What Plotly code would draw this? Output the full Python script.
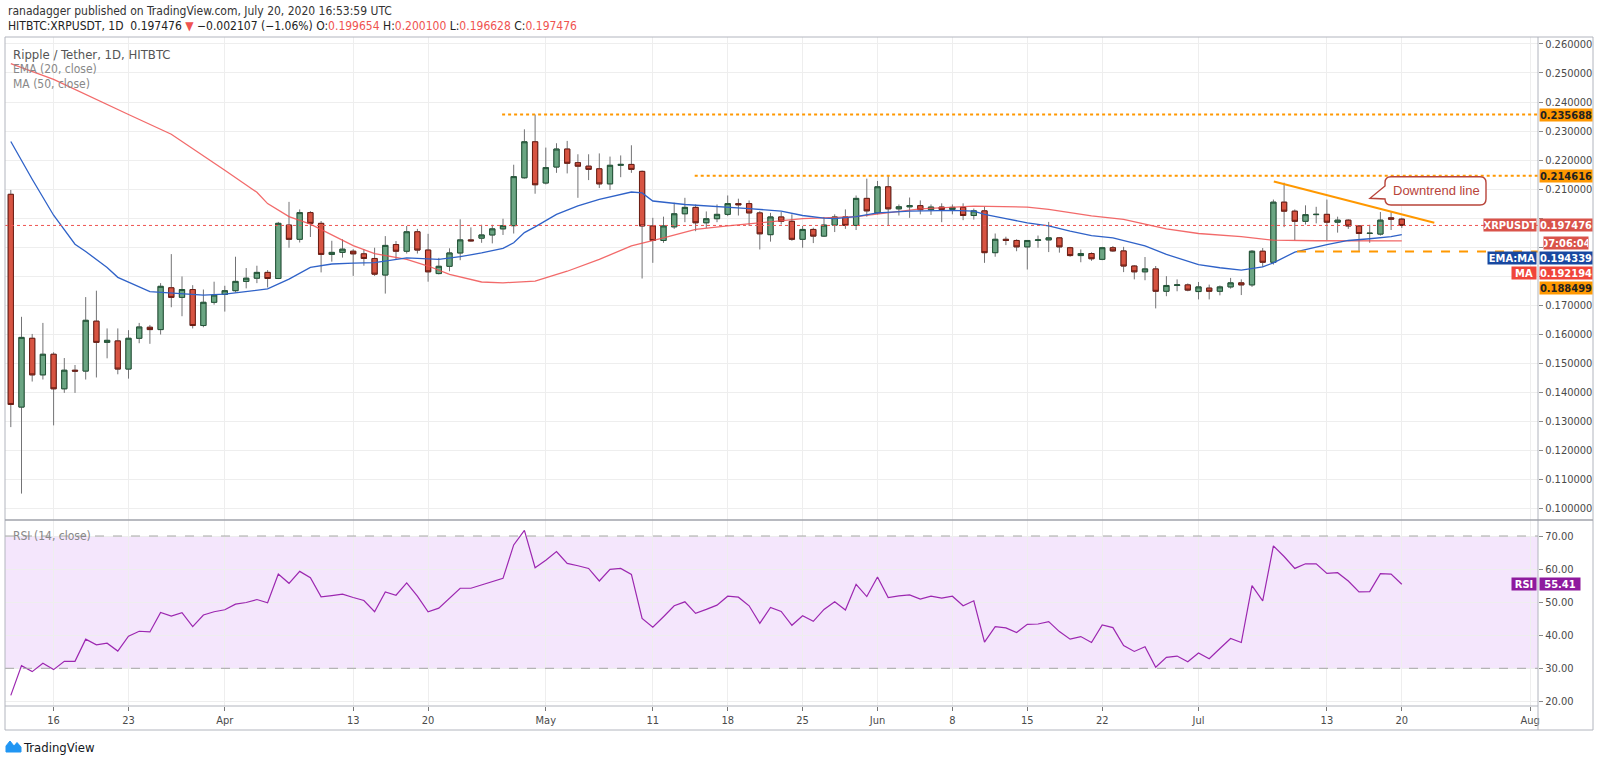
import plotly.graph_objects as go
import pandas as pd

# ---------------- DATA ----------------
dates = pd.date_range("2020-03-12", "2020-07-20", freq="D").strftime("%Y-%m-%d").tolist()

opens = [0.2082, 0.1349, 0.1586, 0.1460, 0.1531, 0.1412, 0.1476, 0.1473, 0.1645, 0.1572,
         0.1577, 0.1480, 0.1586, 0.1624, 0.1616, 0.1760, 0.1727, 0.1754, 0.1630, 0.1710,
         0.1737, 0.1750, 0.1782, 0.1793, 0.1813, 0.1792, 0.1976, 0.1927, 0.2019, 0.1982,
         0.1875, 0.1882, 0.1886, 0.1877, 0.1861, 0.1804, 0.1909, 0.1886, 0.1953, 0.1890,
         0.1809, 0.1834, 0.1880, 0.1925, 0.1931, 0.1942, 0.1963, 0.1974, 0.2139, 0.2263,
         0.2121, 0.2176, 0.2238, 0.2191, 0.2179, 0.2170, 0.2118, 0.2182, 0.2185, 0.2161,
         0.1973, 0.1923, 0.1970, 0.2015, 0.2037, 0.1984, 0.1998, 0.2013, 0.2050, 0.2050,
         0.2018, 0.1943, 0.2004, 0.1989, 0.1927, 0.1961, 0.1938, 0.1976, 0.2004, 0.1975,
         0.2068, 0.2018, 0.2108, 0.2032, 0.2039, 0.2043, 0.2029, 0.2038, 0.2030, 0.2037,
         0.2009, 0.2025, 0.1881, 0.1927, 0.1923, 0.1901, 0.1923, 0.1925, 0.1932, 0.1898,
         0.1871, 0.1878, 0.1858, 0.1898, 0.1887, 0.1835, 0.1815, 0.1825, 0.1748, 0.1768,
         0.1770, 0.1747, 0.1759, 0.1748, 0.1763, 0.1777, 0.1770, 0.1886, 0.1848, 0.2055,
         0.2024, 0.1989, 0.2012, 0.2013, 0.1986, 0.1993, 0.1973, 0.1947, 0.1945, 0.2001,
         0.199654]
highs = [0.2097, 0.1660, 0.1601, 0.1639, 0.1538, 0.1518, 0.1494, 0.1728, 0.1750, 0.1620,
         0.1620, 0.1614, 0.1639, 0.1632, 0.1776, 0.1876, 0.1799, 0.1769, 0.1754, 0.1781,
         0.1767, 0.1867, 0.1828, 0.1836, 0.1821, 0.1987, 0.2056, 0.2030, 0.2024, 0.1990,
         0.1922, 0.1927, 0.1893, 0.1893, 0.1898, 0.1938, 0.1921, 0.1973, 0.1963, 0.1946,
         0.1863, 0.1896, 0.1996, 0.1968, 0.1977, 0.1977, 0.1998, 0.2184, 0.2306, 0.2357,
         0.2243, 0.2258, 0.2266, 0.2220, 0.2220, 0.2223, 0.2212, 0.2216, 0.2251, 0.2164,
         0.2001, 0.2005, 0.2053, 0.2070, 0.2047, 0.2023, 0.2047, 0.2078, 0.2067, 0.2061,
         0.2024, 0.2018, 0.2021, 0.2013, 0.1973, 0.1967, 0.2004, 0.2013, 0.2030, 0.2078,
         0.2136, 0.2128, 0.2147, 0.2047, 0.2071, 0.2061, 0.2047, 0.2051, 0.2047, 0.2051,
         0.2033, 0.2039, 0.1947, 0.1936, 0.1927, 0.1924, 0.1940, 0.1987, 0.1935, 0.1901,
         0.1892, 0.1882, 0.1901, 0.1904, 0.1901, 0.1838, 0.1866, 0.1835, 0.1800, 0.1789,
         0.1775, 0.1780, 0.1771, 0.1768, 0.1794, 0.1789, 0.1890, 0.1897, 0.2064, 0.2122,
         0.2030, 0.2044, 0.2039, 0.2064, 0.2005, 0.1996, 0.1975, 0.1977, 0.2021, 0.2021,
         0.200100]
lows = [0.1280, 0.1051, 0.1437, 0.1444, 0.1286, 0.1398, 0.1398, 0.1444, 0.1451, 0.1517,
        0.1462, 0.1447, 0.1569, 0.1567, 0.1599, 0.1693, 0.1662, 0.1620, 0.1624, 0.1702,
        0.1678, 0.1744, 0.1758, 0.1776, 0.1761, 0.1790, 0.1898, 0.1916, 0.1935, 0.1813,
        0.1850, 0.1864, 0.1801, 0.1836, 0.1801, 0.1740, 0.1858, 0.1878, 0.1878, 0.1781,
        0.1806, 0.1817, 0.1855, 0.1919, 0.1915, 0.1913, 0.1942, 0.1947, 0.2136, 0.2084,
        0.2116, 0.2156, 0.2154, 0.2070, 0.2131, 0.2104, 0.2097, 0.2141, 0.2156, 0.1792,
        0.1846, 0.1915, 0.1963, 0.1986, 0.1955, 0.1966, 0.1986, 0.2007, 0.2009, 0.1973,
        0.1892, 0.1919, 0.1978, 0.1922, 0.1898, 0.1914, 0.1935, 0.1952, 0.1963, 0.1959,
        0.2005, 0.2013, 0.1973, 0.2009, 0.2001, 0.2013, 0.2011, 0.1986, 0.2013, 0.1993,
        0.1995, 0.1846, 0.1867, 0.1907, 0.1886, 0.1823, 0.1898, 0.1883, 0.1881, 0.1867,
        0.1848, 0.1853, 0.1855, 0.1884, 0.1814, 0.1789, 0.1786, 0.1689, 0.1731, 0.1748,
        0.1748, 0.1720, 0.1720, 0.1734, 0.1757, 0.1735, 0.1763, 0.1832, 0.1840, 0.1969,
        0.1924, 0.1978, 0.1982, 0.1924, 0.1950, 0.1963, 0.1884, 0.1915, 0.1940, 0.1959,
        0.196628]
closes = [0.1358, 0.1589, 0.1460, 0.1531, 0.1412, 0.1476, 0.1473, 0.1648, 0.1572, 0.1579,
          0.1480, 0.1586, 0.1625, 0.1616, 0.1765, 0.1727, 0.1754, 0.1630, 0.1710, 0.1735,
          0.1750, 0.1782, 0.1793, 0.1813, 0.1792, 0.1982, 0.1927, 0.2019, 0.1982, 0.1875,
          0.1882, 0.1893, 0.1877, 0.1861, 0.1807, 0.1906, 0.1886, 0.1953, 0.1890, 0.1815,
          0.1834, 0.1880, 0.1925, 0.1922, 0.1942, 0.1963, 0.1974, 0.2143, 0.2263, 0.2115,
          0.2174, 0.2238, 0.2189, 0.2179, 0.2168, 0.2118, 0.2182, 0.2185, 0.2168, 0.1973,
          0.1923, 0.1973, 0.2015, 0.2037, 0.1984, 0.1998, 0.2013, 0.2050, 0.2046, 0.2018,
          0.1946, 0.2004, 0.1989, 0.1927, 0.1961, 0.1938, 0.1976, 0.2004, 0.1975, 0.2068,
          0.2025, 0.2108, 0.2032, 0.2039, 0.2043, 0.2029, 0.2038, 0.2030, 0.2037, 0.2009,
          0.2025, 0.1881, 0.1927, 0.1923, 0.1901, 0.1923, 0.1925, 0.1932, 0.1901, 0.1871,
          0.1878, 0.1860, 0.1898, 0.1887, 0.1835, 0.1815, 0.1825, 0.1748, 0.1768, 0.1770,
          0.1752, 0.1763, 0.1748, 0.1763, 0.1777, 0.1770, 0.1886, 0.1848, 0.2055, 0.2024,
          0.1989, 0.2012, 0.2013, 0.1986, 0.1993, 0.1973, 0.1947, 0.1948, 0.1993, 0.199654,
          0.197476]

ema_dates = ["2020-03-12", "2020-03-14", "2020-03-16", "2020-03-18", "2020-03-19", "2020-03-21",
             "2020-03-22", "2020-03-23", "2020-03-25", "2020-03-30", "2020-04-01", "2020-04-05",
             "2020-04-06", "2020-04-07", "2020-04-09", "2020-04-11", "2020-04-13", "2020-04-15",
             "2020-04-18", "2020-04-20", "2020-04-21", "2020-04-23", "2020-04-25", "2020-04-27",
             "2020-04-28", "2020-04-29", "2020-04-30", "2020-05-02", "2020-05-04", "2020-05-06",
             "2020-05-09", "2020-05-10", "2020-05-11", "2020-05-14", "2020-05-18", "2020-05-20",
             "2020-05-23", "2020-05-25", "2020-05-27", "2020-05-28", "2020-05-30", "2020-06-01",
             "2020-06-04", "2020-06-08", "2020-06-10", "2020-06-11", "2020-06-13", "2020-06-15",
             "2020-06-17", "2020-06-19", "2020-06-21", "2020-06-23", "2020-06-26", "2020-06-28",
             "2020-07-01", "2020-07-03", "2020-07-05", "2020-07-07", "2020-07-08", "2020-07-10",
             "2020-07-13", "2020-07-15", "2020-07-17", "2020-07-19", "2020-07-20"]
ema_vals = [0.2264, 0.2134, 0.2010, 0.1910, 0.1885, 0.1830,
            0.1796, 0.1779, 0.1747, 0.1735, 0.1738, 0.1756,
            0.1773, 0.1790, 0.1830, 0.1842, 0.1845, 0.1847,
            0.1863, 0.1861, 0.1858, 0.1867, 0.1880, 0.1896,
            0.1915, 0.1950, 0.1970, 0.2013, 0.2042, 0.2065,
            0.2090, 0.2087, 0.2059, 0.2047, 0.2039, 0.2033,
            0.2024, 0.2009, 0.2000, 0.1998, 0.2005, 0.2018,
            0.2024, 0.2027, 0.2024, 0.2013, 0.1998, 0.1984,
            0.1973, 0.1955, 0.1940, 0.1932, 0.1904, 0.1875,
            0.1840, 0.1829, 0.1821, 0.1832, 0.1846, 0.1883,
            0.1909, 0.1923, 0.1929, 0.1936, 0.194339]

ma_dates = ["2020-03-12", "2020-03-16", "2020-03-23", "2020-03-27", "2020-04-01", "2020-04-04",
            "2020-04-05", "2020-04-07", "2020-04-09", "2020-04-13", "2020-04-15", "2020-04-18",
            "2020-04-20", "2020-04-22", "2020-04-25", "2020-04-27", "2020-04-30", "2020-05-03",
            "2020-05-06", "2020-05-09", "2020-05-12", "2020-05-15", "2020-05-18", "2020-05-20",
            "2020-05-25", "2020-05-30", "2020-06-02", "2020-06-05", "2020-06-10", "2020-06-15",
            "2020-06-17", "2020-06-21", "2020-06-24", "2020-06-28", "2020-07-01", "2020-07-05",
            "2020-07-08", "2020-07-12", "2020-07-20"]
ma_vals = [0.2532, 0.2478, 0.2357, 0.2289, 0.2165, 0.2089,
           0.2050, 0.2005, 0.1979, 0.1905, 0.1878, 0.1858,
           0.1835, 0.1806, 0.1780, 0.1777, 0.1783, 0.1817,
           0.1858, 0.1904, 0.1932, 0.1961, 0.1973, 0.1980,
           0.1998, 0.2005, 0.2018, 0.2032, 0.2041, 0.2038,
           0.2030, 0.2008, 0.1996, 0.1963, 0.1947, 0.1936,
           0.1924, 0.1922, 0.192194]

rsi_vals = [21.8, 30.8, 29.0, 31.5, 29.6, 32.1, 32.1, 38.8, 37.1, 37.6,
            35.2, 39.7, 41.2, 41.0, 46.9, 45.8, 46.8, 42.6, 46.1, 47.1,
            47.7, 49.4, 49.9, 50.8, 49.8, 58.5, 55.7, 59.3, 57.4, 51.6,
            52.0, 52.4, 51.4, 50.5, 47.1, 53.1, 52.1, 55.8, 51.8, 47.1,
            48.2, 51.2, 54.2, 54.2, 55.2, 56.4, 57.2, 67.3, 71.7, 60.4,
            62.7, 65.3, 61.7, 61.0, 60.2, 56.4, 59.9, 60.2, 58.4, 45.1,
            42.4, 45.6, 48.9, 50.1, 46.6, 47.8, 49.1, 51.8, 51.5, 48.9,
            43.6, 48.4, 47.2, 43.0, 45.9, 44.2, 47.8, 50.1, 47.6, 55.4,
            51.7, 57.6, 51.4, 51.9, 52.2, 50.9, 51.8, 51.2, 51.8, 48.9,
            50.4, 37.9, 42.6, 42.2, 40.8, 43.3, 43.4, 44.1, 41.1, 38.8,
            39.6, 37.8, 43.1, 42.3, 36.9, 35.1, 36.5, 30.3, 33.3, 33.7,
            32.0, 34.6, 32.9, 36.0, 39.0, 37.8, 55.0, 50.4, 67.0, 63.8,
            60.2, 61.6, 61.6, 58.7, 58.9, 56.4, 53.1, 53.2, 58.6, 58.5,
            55.41]

tick_dates = ["2020-03-16", "2020-03-23", "2020-04-01", "2020-04-13", "2020-04-20", "2020-05-01",
              "2020-05-11", "2020-05-18", "2020-05-25", "2020-06-01", "2020-06-08", "2020-06-15",
              "2020-06-22", "2020-07-01", "2020-07-13", "2020-07-20", "2020-08-01"]
tick_labels = ["16", "23", "Apr", "13", "20", "May", "11", "18", "25", "Jun", "8", "15",
               "22", "Jul", "13", "20", "Aug"]

price_ticks = [0.10, 0.11, 0.12, 0.13, 0.14, 0.15, 0.16, 0.17, 0.18, 0.19,
               0.20, 0.21, 0.22, 0.23, 0.24, 0.25, 0.26]
hidden_price_ticks = [0.18, 0.19, 0.20]   # covered by the price-axis labels in the original

# drawn levels / trend line
res_top = 0.235688
res_top_start = "2020-04-26 22:00"
res_mid = 0.214616
res_mid_start = "2020-05-14 22:00"
support = 0.188499
support_start = "2020-07-10 05:00"
trend_x = ["2020-07-08 01:00", "2020-07-23 01:00"]
trend_y = [0.2126, 0.1984]
last_price = 0.197476
ema_last = 0.194339
ma_last = 0.192194
rsi_last = 55.41

# ---------------- LAYOUT HELPERS ----------------
W, H = 1600, 763
PL, PR, PT, PB = 5, 1538, 37, 706
SPLIT = 520
X_START, X_END = "2020-03-11 11:00", "2020-08-01 17:30"
Y_MAIN = [0.096, 0.2624]
Y_RSI = [18.6, 74.84]

def fx(x):
    return (x - PL) / (PR - PL)

def fy(y):
    return (PB - y) / (PB - PT)

def ypx(p):
    return PT + (Y_MAIN[1] - p) / (Y_MAIN[1] - Y_MAIN[0]) * (SPLIT - PT)

split_dom = fy(SPLIT)

FONT = "Liberation Sans Narrow, DejaVu Sans Condensed, Roboto Condensed, Roboto, sans-serif"
FONT_R = "Liberation Sans, Arial, Roboto, sans-serif"
GRID = "#eeeeee"
AXC = "#4a4a4a"
GREEN, GREEN_B = "#6ba583", "#225437"
RED, RED_B = "#d75442", "#6b1d14"
WICK = "#737375"
ORANGE = "#ff9800"

fig = go.Figure()

# wicks
fig.add_trace(go.Candlestick(
    x=dates, open=opens, high=highs, low=lows, close=closes,
    increasing=dict(line=dict(color=WICK, width=1), fillcolor=GREEN),
    decreasing=dict(line=dict(color=WICK, width=1), fillcolor=RED),
    hoverinfo="skip", xaxis="x", yaxis="y"))
# bodies
body_hi = [max(o, c) for o, c in zip(opens, closes)]
body_lo = [min(o, c) for o, c in zip(opens, closes)]
fig.add_trace(go.Candlestick(
    x=dates, open=opens, high=body_hi, low=body_lo, close=closes,
    increasing=dict(line=dict(color=GREEN_B, width=1), fillcolor=GREEN),
    decreasing=dict(line=dict(color=RED_B, width=1), fillcolor=RED),
    hoverinfo="skip", xaxis="x", yaxis="y"))

fig.add_trace(go.Scatter(x=ma_dates, y=ma_vals, mode="lines",
                         line=dict(color="rgba(240,80,80,0.85)", width=1.3),
                         hoverinfo="skip", xaxis="x", yaxis="y"))
fig.add_trace(go.Scatter(x=ema_dates, y=ema_vals, mode="lines",
                         line=dict(color="#2f62c8", width=1.3),
                         hoverinfo="skip", xaxis="x", yaxis="y"))
fig.add_trace(go.Scatter(x=dates, y=rsi_vals, mode="lines",
                         line=dict(color="#9c27b0", width=1.2),
                         hoverinfo="skip", xaxis="x2", yaxis="y2"))

shapes = []
# RSI band
shapes.append(dict(type="rect", xref="x2", yref="y2", x0=X_START, x1=X_END, y0=30, y1=70,
                   fillcolor="#f4e6fc", line=dict(width=0), layer="below"))
for lvl in (30, 70):
    shapes.append(dict(type="line", xref="x2", yref="y2", x0=X_START, x1=X_END, y0=lvl, y1=lvl,
                       line=dict(color="#a6a6a6", width=1, dash="dash")))
# horizontal levels
shapes.append(dict(type="line", xref="x", yref="y", x0=res_top_start, x1=X_END, y0=res_top, y1=res_top,
                   line=dict(color=ORANGE, width=2, dash="dot")))
shapes.append(dict(type="line", xref="x", yref="y", x0=res_mid_start, x1=X_END, y0=res_mid, y1=res_mid,
                   line=dict(color=ORANGE, width=2, dash="dot")))
shapes.append(dict(type="line", xref="x", yref="y", x0=support_start, x1=X_END, y0=support, y1=support,
                   line=dict(color=ORANGE, width=2, dash="dash")))
shapes.append(dict(type="line", xref="x", yref="y", x0=trend_x[0], x1=trend_x[1], y0=trend_y[0], y1=trend_y[1],
                   line=dict(color=ORANGE, width=2)))
shapes.append(dict(type="line", xref="x", yref="y", x0=X_START, x1=X_END, y0=last_price, y1=last_price,
                   line=dict(color="#ef5350", width=1, dash="dot")))

# callout bubble
def P(x, y):
    return f"{fx(x):.5f},{fy(y):.5f}"

bub = (f"M {P(1391,176.7)} L {P(1480,176.7)} Q {P(1486,176.7)} {P(1486,182.7)} "
       f"L {P(1486,199)} Q {P(1486,205)} {P(1480,205)} L {P(1391,205)} "
       f"Q {P(1385,205)} {P(1385,199)} L {P(1370,198.3)} L {P(1385,186)} "
       f"L {P(1385,182.7)} Q {P(1385,176.7)} {P(1391,176.7)} Z")
shapes.append(dict(type="path", xref="paper", yref="paper", path=bub,
                   fillcolor="white", line=dict(color="#b8443a", width=1.4)))

# frame lines
BC = "#b2b5be"
shapes.append(dict(type="rect", xref="paper", yref="paper", x0=fx(5), x1=fx(1593), y0=fy(730), y1=fy(37),
                   line=dict(color=BC, width=1)))
shapes.append(dict(type="line", xref="paper", yref="paper", x0=fx(1538), x1=fx(1538), y0=fy(730), y1=fy(37),
                   line=dict(color=BC, width=1)))
shapes.append(dict(type="line", xref="paper", yref="paper", x0=fx(5), x1=fx(1593), y0=fy(SPLIT), y1=fy(SPLIT),
                   line=dict(color="#a0a3ab", width=1.5)))
shapes.append(dict(type="line", xref="paper", yref="paper", x0=fx(5), x1=fx(1538), y0=fy(706), y1=fy(706),
                   line=dict(color=BC, width=1)))
# TradingView logo mark
logo = (f"M {P(6,752)} L {P(6,746)} L {P(10,741)} L {P(14,746)} L {P(17,742.5)} "
        f"L {P(21,747)} L {P(21,752)} Z")
shapes.append(dict(type="path", xref="paper", yref="paper", path=logo,
                   fillcolor="#2196f3", line=dict(color="#2196f3", width=1)))

ann = []

def txt(x, y, text, size=12, color="#333", family=FONT):
    ann.append(dict(xref="paper", yref="paper", x=fx(x), y=fy(y), xanchor="left", yanchor="middle",
                    text=text, showarrow=False, font=dict(size=size, color=color, family=family)))

R_ = "#ef5350"
txt(6, 11, "ranadagger published on TradingView.com, July 20, 2020 16:53:59 UTC", 12, "#333")
txt(6, 26, ("HITBTC:XRPUSDT, 1D &nbsp;0.197476 <span style='color:#ef5350'>▼</span> −0.002107 (−1.06%) "
            f"O:<span style='color:{R_}'>0.199654</span> H:<span style='color:{R_}'>0.200100</span> "
            f"L:<span style='color:{R_}'>0.196628</span> C:<span style='color:{R_}'>0.197476</span>"),
    12, "#222")
txt(11, 54, "Ripple / Tether, 1D, HITBTC", 13, "#555")
txt(11, 69, "EMA (20, close)", 12, "#888")
txt(11, 84, "MA (50, close)", 12, "#888")
txt(11, 536, "RSI (14, close)", 12, "#888")
txt(21, 747, "TradingView", 13, "#131722")

ann.append(dict(xref="paper", yref="paper", x=fx(1436), y=fy(191), xanchor="center", yanchor="middle",
                text="Downtrend line", showarrow=False,
                font=dict(size=13, color="#b8443a", family=FONT_R)))

def box(yref, y, text, bg, fg="white", side="value", width=52, shift_px=0, xshift=None):
    a = dict(xref="paper", yref=yref, x=1, y=y, yanchor="middle", showarrow=False,
             text=f"<b>{text}</b>", bgcolor=bg, font=dict(size=11, color=fg, family=FONT),
             width=width, height=12, borderpad=0, align="center", yshift=shift_px)
    if side == "value":
        a.update(xanchor="left", xshift=1 if xshift is None else xshift)
    else:
        a.update(xanchor="right", xshift=-1 if xshift is None else xshift)
    ann.append(a)

box("y", res_top, f"{res_top:.6f}", ORANGE, "#222")
box("y", res_mid, f"{res_mid:.6f}", ORANGE, "#222")
box("y", last_price, f"{last_price:.6f}", "#d9534a")
box("y", last_price, "XRPUSDT", "#d9534a", side="label", width=52)
box("y", last_price, "07:06:04", "#d9534a", width=44, shift_px=ypx(last_price) - 242.8, xshift=5)
box("y", ema_last, f"{ema_last:.6f}", "#1848a0", shift_px=ypx(ema_last) - 258.3)
box("y", ema_last, "EMA:MA", "#1848a0", side="label", width=48, shift_px=ypx(ema_last) - 258.3)
box("y", ma_last, f"{ma_last:.6f}", "#f0453a", shift_px=ypx(ma_last) - 273.3)
box("y", ma_last, "MA", "#f0453a", side="label", width=24, shift_px=ypx(ma_last) - 273.3)
box("y", support, f"{support:.6f}", ORANGE, "#222", shift_px=ypx(support) - 288.0)
box("y2", rsi_last, f"{rsi_last:.2f}", "#8e1a9e", width=40)
box("y2", rsi_last, "RSI", "#8e1a9e", side="label", width=24)

price_text = ["" if any(abs(v - h) < 1e-9 for h in hidden_price_ticks) else f"{v:.6f}" for v in price_ticks]

tickfont = dict(size=11, color=AXC, family=FONT)
fig.update_layout(
    width=W, height=H,
    margin=dict(l=PL, r=W - PR, t=PT, b=H - PB),
    paper_bgcolor="white", plot_bgcolor="white",
    showlegend=False,
    xaxis=dict(domain=[0, 1], anchor="y", type="date", range=[X_START, X_END],
               tickvals=tick_dates, ticktext=tick_labels, showticklabels=False,
               showgrid=True, gridcolor=GRID, zeroline=False, showline=False,
               rangeslider=dict(visible=False)),
    xaxis2=dict(domain=[0, 1], anchor="y2", type="date", range=[X_START, X_END], matches="x",
                tickvals=tick_dates, ticktext=tick_labels, showticklabels=True,
                ticks="outside", ticklen=4, tickcolor="#777", tickfont=tickfont,
                showgrid=True, gridcolor=GRID, zeroline=False, showline=False,
                rangeslider=dict(visible=False)),
    yaxis=dict(domain=[split_dom, 1], anchor="x", side="right", range=Y_MAIN,
               tickvals=price_ticks, ticktext=price_text, ticks="outside", ticklen=4,
               tickcolor="#888", tickfont=tickfont, showgrid=True, gridcolor=GRID,
               zeroline=False, showline=False),
    yaxis2=dict(domain=[0, split_dom], anchor="x2", side="right", range=Y_RSI,
                dtick=10, tick0=0, tickformat=".2f", ticks="outside", ticklen=4,
                tickcolor="#888", tickfont=tickfont, showgrid=True, gridcolor=GRID,
                zeroline=False, showline=False),
    shapes=shapes,
    annotations=ann,
)

fig.write_html("out.html",
               config={"displayModeBar": False},
               post_script="document.body.style.margin='0px';document.body.style.overflow='hidden';")
